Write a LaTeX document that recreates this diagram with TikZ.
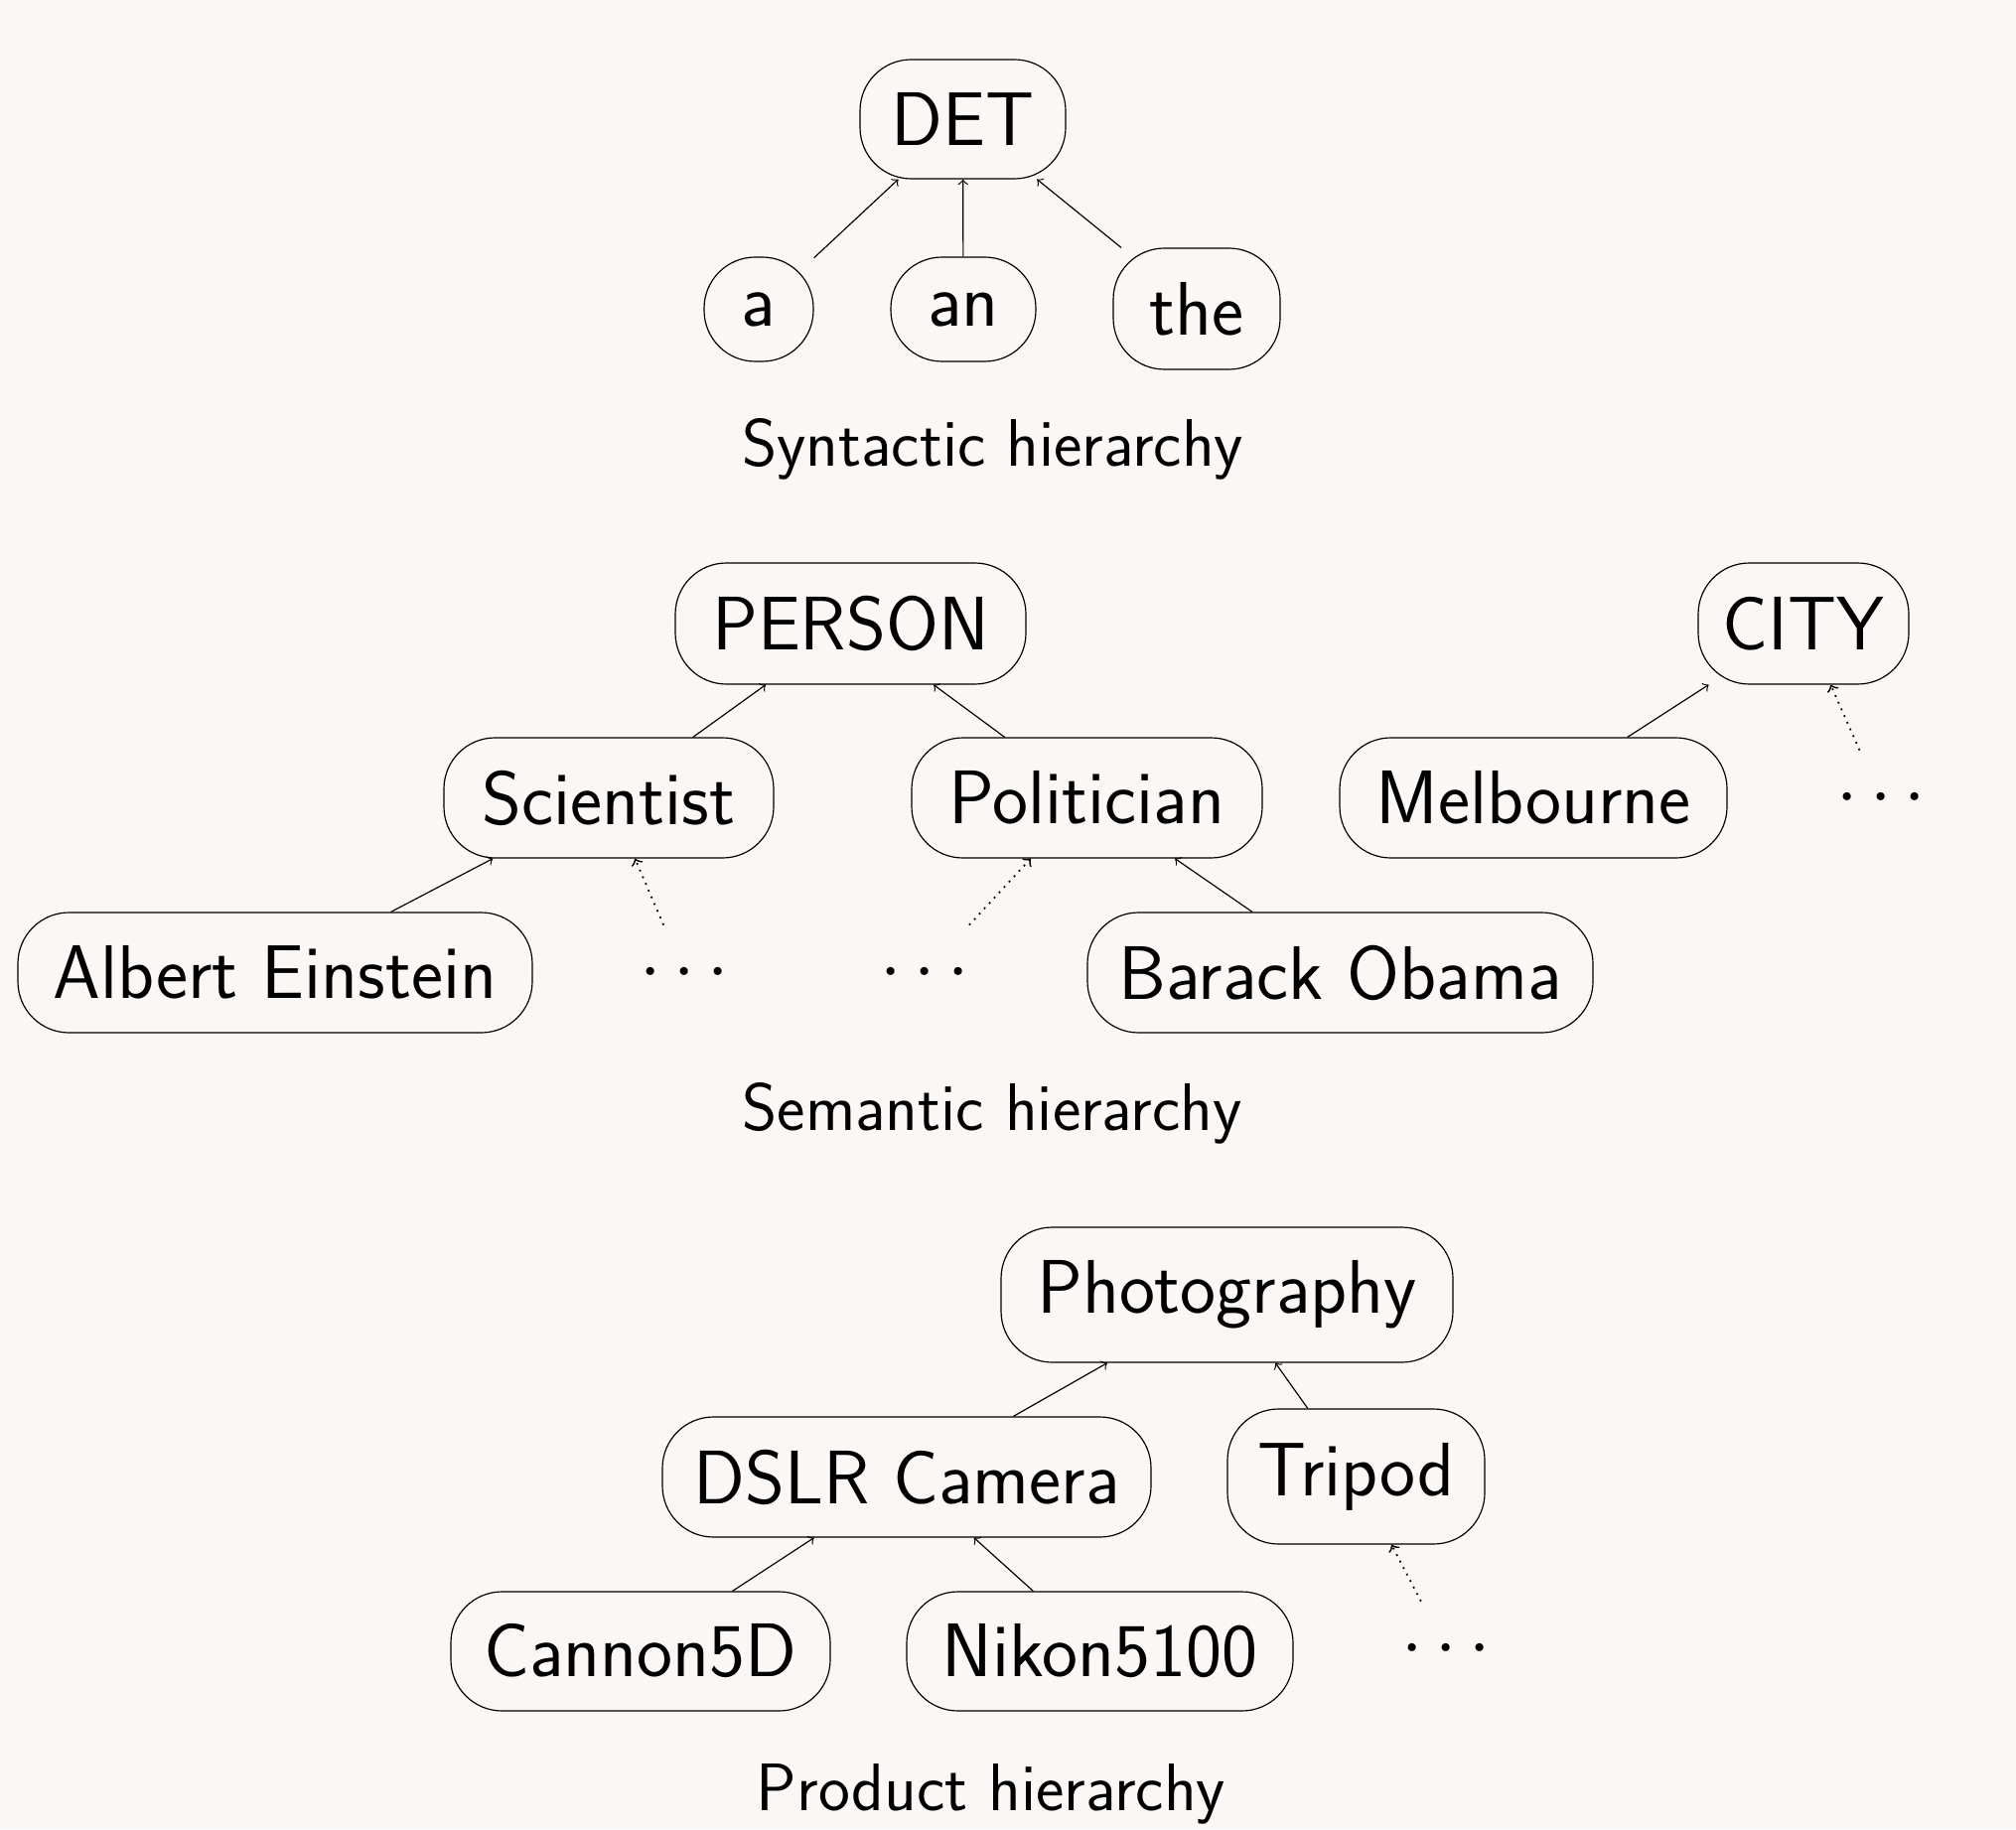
\documentclass[tikz,border=0pt]{standalone}
\usepackage{fix-cm}
\usepackage{tikz}
\definecolor{bgc}{RGB}{250,247,245}
\begin{document}
\begin{tikzpicture}[x=0.34pt,y=-0.34pt,
  every node/.style={font=\sffamily\fontsize{26}{31}\selectfont},
  box/.style={draw, rounded corners=17.5pt, inner sep=0pt},
  sz/.style 2 args={minimum width=#1*0.34pt, minimum height=#2*0.34pt},
  dotsnode/.style={inner sep=10.5pt},
  lbl/.style={font=\sffamily\fontsize{23}{28}\selectfont, anchor=base, inner sep=0pt},
  arr/.style={->},
  darr/.style={->, line width=0.6pt, dash pattern=on 0.6pt off 1.9pt}]
\useasboundingbox (0,0) rectangle (2030,1842);
\fill[bgc] (0,0) rectangle (2030,1842);
% Syntactic
\node[box,sz={207}{120}] (det) at (969.5,120) {DET};
\node[box,sz={110}{105}] (a) at (764,311.5) {a};
\node[box,sz={146}{105}] (an) at (970,311.5) {an};
\node[box,sz={168}{122}] (the) at (1205,311) {the};
\node[lbl] (syn) at (999.5,470) {Syntactic hierarchy};
% Semantic
\node[box,sz={353}{122}] (person) at (856.5,628) {PERSON};
\node[box,sz={212}{122}] (city) at (1816,628) {CITY};
\node[box,sz={332}{121}] (sci) at (613,803.5) {Scientist};
\node[box,sz={353}{121}] (pol) at (1094.5,803.5) {Politician};
\node[box,sz={390}{121}] (mel) at (1544,803.5) {Melbourne};
\node[dotsnode] (cd) at (1894,804) {$\cdots$};
\node[box,sz={518}{121}] (ae) at (277,979.5) {Albert Einstein};
\node[dotsnode] (d1) at (689,980) {$\cdots$};
\node[dotsnode] (d2) at (931,980) {$\cdots$};
\node[box,sz={509}{121}] (bo) at (1349.5,979.5) {Barack Obama};
\node[lbl] (sem) at (999,1138) {Semantic hierarchy};
% Product
\node[box,sz={455}{136}] (photo) at (1235.5,1304) {Photography};
\node[box,sz={492}{121}] (dslr) at (913,1487.5) {DSLR Camera};
\node[box,sz={259}{136}] (tri) at (1365.5,1487) {Tripod};
\node[box,sz={382}{120}] (can) at (645,1663) {Cannon5D};
\node[box,sz={389}{120}] (nik) at (1107.5,1663) {Nikon5100};
\node[dotsnode] (d3) at (1456,1661) {$\cdots$};
\node[lbl] (prod) at (998,1823) {Product hierarchy};
% Edges
\draw[arr] (a) -- (det);
\draw[arr] (an) -- (det);
\draw[arr] (the) -- (det);
\draw[arr] (sci) -- (person);
\draw[arr] (pol) -- (person);
\draw[arr] (mel) -- (city);
\draw[darr] (cd) -- (city);
\draw[arr] (ae) -- (sci);
\draw[darr] (d1) -- (sci);
\draw[darr] (d2) -- (pol);
\draw[arr] (bo) -- (pol);
\draw[arr] (dslr) -- (photo);
\draw[arr] (tri) -- (photo);
\draw[arr] (can) -- (dslr);
\draw[arr] (nik) -- (dslr);
\draw[darr] (d3) -- (tri);
\end{tikzpicture}
\end{document}
